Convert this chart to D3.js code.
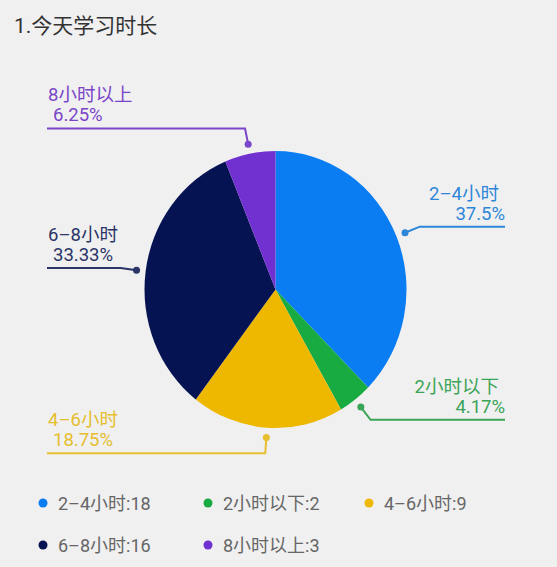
<!DOCTYPE html>
<html lang="zh">
<head>
  <meta charset="utf-8">
  <title>1.今天学习时长</title>
  <script src="https://d3js.org/d3.v7.min.js"></script>
  <style>
    html, body { margin: 0; padding: 0; background: #f0f0f0; }
    svg { display: block; font-family: Roboto, "Noto Sans CJK SC", sans-serif; }
  </style>
</head>
<body>
<div id="chart"></div>
<script>
  // data
  const categories = ['2\u20134小时', '2小时以下', '4\u20136小时', '6\u20138小时', '8小时以上']
  const counts = [18, 2, 9, 16, 3]
  const percentLabels = ['37.5%', '4.17%', '18.75%', '33.33%', '6.25%']
  const sliceColors = ['#0a7df2', '#17ab42', '#efb800', '#061352', '#7131d1']
  const labelColors = ['#2d86d8', '#3aa457', '#e6be2e', '#2a3467', '#7a45c9']

  const width = 557, height = 567
  const cx = 275.5, cy = 289.5
  const rx = 131, ry = 138.5   // the reference pie is a bit taller than wide

  const svg = d3.select('#chart').append('svg')
    .attr('width', width)
    .attr('height', height)

  // title
  svg.append('text')
    .attr('x', 14)
    .attr('y', 33)
    .attr('font-size', 21)
    .attr('fill', '#333')
    .text('1.今天学习时长')

  const slices = categories.map((c, i) => ({ name: c, value: counts[i], i: i }))

  const pie = d3.pie().value(d => d.value).sort(null)
  const arcs = pie(slices)

  const arc = d3.arc().innerRadius(0).outerRadius(rx)
  const dotArc = d3.arc().innerRadius(rx * 1.07).outerRadius(rx * 1.07)
  const sy = ry / rx

  const pieG = svg.append('g')
    .attr('transform', `translate(${cx},${cy}) scale(1,${sy})`)

  pieG.selectAll('path')
    .data(arcs)
    .enter()
    .append('path')
    .attr('d', arc)
    .attr('fill', d => sliceColors[d.data.i])

  // labels with leader lines
  const leftX = 47, rightX = 505, seg = 16
  const labelG = svg.append('g')

  arcs.forEach(d => {
    const c = dotArc.centroid(d)
    const px = cx + c[0], py = cy + c[1] * sy
    const mid = (d.startAngle + d.endAngle) / 2
    const ex = px + Math.sin(mid) * seg, ey = py - Math.cos(mid) * seg
    const right = Math.sin(mid) > 0
    const endX = right ? rightX : leftX
    const col = labelColors[d.data.i]

    labelG.append('path')
      .attr('d', `M${px},${py}L${ex},${ey}L${endX},${ey}`)
      .attr('fill', 'none')
      .attr('stroke', col)
      .attr('stroke-width', 2)
    labelG.append('circle')
      .attr('cx', px).attr('cy', py).attr('r', 3.5)
      .attr('fill', col)

    const t = labelG.append('text')
      .attr('font-size', 18.5)
      .attr('fill', col)
      .attr('text-anchor', right ? 'end' : 'start')
    t.append('tspan')
      .attr('x', right ? endX - 6 : endX + 1)
      .attr('y', ey - 27)
      .text(d.data.name)
    t.append('tspan')
      .attr('x', right ? endX : endX + 6)
      .attr('y', ey - 7)
      .text(percentLabels[d.data.i])
  })

  // legend
  const legendCols = [43, 208, 369]
  const legendRows = [503, 545]
  const legend = svg.append('g')
  slices.forEach((s, i) => {
    const x = legendCols[i % 3], y = legendRows[Math.floor(i / 3)]
    legend.append('circle')
      .attr('cx', x).attr('cy', y).attr('r', 4.5)
      .attr('fill', sliceColors[i])
    legend.append('text')
      .attr('x', x + 15)
      .attr('y', y + 6.5)
      .attr('font-size', 18)
      .attr('fill', '#666')
      .text(s.name + ':' + s.value)
  })
</script>
</body>
</html>
